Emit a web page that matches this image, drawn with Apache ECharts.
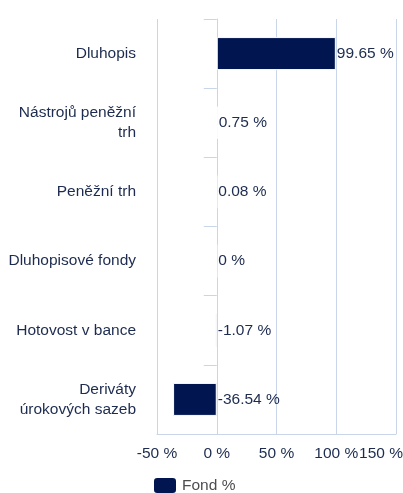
<!DOCTYPE html>
<html>
<head>
<meta charset="utf-8">
<script src="https://cdn.jsdelivr.net/npm/echarts@6/dist/echarts.min.js"></script>
<style>
  html, body { margin: 0; padding: 0; background: #fff; }
  #chart { width: 403px; height: 493px; }
</style>
</head>
<body>
<div id="chart"></div>
<script>
// kategorie a hodnoty (v %)
var categories = ['Dluhopis', 'Nástrojů peněžní\ntrh', 'Peněžní trh', 'Dluhopisové fondy', 'Hotovost v bance', 'Deriváty\núrokových sazeb'];
var fondValues = [99.65, 0.75, 0.08, 0, -1.07, -36.54];
var xTicks = [-50, 0, 50, 100, 150];

var navy = '#011550';
var textNavy = '#1c2b4f';
var gridColor = '#c9d5e8';
var fs = 15.5;

var option = {
    animation: false,
    textStyle: { fontFamily: 'Liberation Sans, Arial, sans-serif' },
    grid: { left: 157, right: 7, top: 19, bottom: 59, containLabel: false, outerBoundsMode: 'none' },
    legend: {
        data: ['Fond %'],
        left: 147,
        top: 471,
        itemWidth: 24,
        itemHeight: 17,
        itemGap: 10,
        textStyle: { color: '#4d4d4d', fontSize: fs }
    },
    xAxis: {
        type: 'value',
        min: xTicks[0],
        max: xTicks[xTicks.length - 1],
        interval: 50,
        axisLine: { show: true, lineStyle: { color: gridColor } },
        axisTick: { show: false },
        splitLine: { show: true, lineStyle: { color: gridColor, width: 1 } },
        axisLabel: {
            color: textNavy,
            fontSize: fs,
            margin: 12,
            hideOverlap: false,
            showMinLabel: true,
            showMaxLabel: true,
            // posledni popisek posunout doleva, aby se vesel do obrazku
            formatter: function (v) {
                if (v === xTicks[xTicks.length - 1]) return '{m|' + v + ' %}';
                return v + ' %';
            },
            rich: {
                m: { color: textNavy, fontSize: fs, padding: [0, 30, 0, 0] }
            }
        }
    },
    yAxis: {
        type: 'category',
        data: categories,
        inverse: true,
        axisLine: { show: true, lineStyle: { color: gridColor } },
        axisTick: { show: true, length: 13, lineStyle: { color: gridColor } },
        axisLabel: {
            color: textNavy,
            fontSize: fs,
            lineHeight: 20,
            margin: 21,
            align: 'right'
        }
    },
    series: [{
        name: 'Fond %',
        type: 'bar',
        data: fondValues,
        barWidth: 33,
        itemStyle: { color: navy, borderColor: '#fff', borderWidth: 1 },
        label: {
            show: true,
            position: 'right',
            distance: 1,
            color: textNavy,
            fontSize: fs,
            formatter: function (p) { return p.value + ' %'; }
        }
    }]
};

var myChart = echarts.init(document.getElementById('chart'));
myChart.setOption(option, true);
</script>
</body>
</html>
